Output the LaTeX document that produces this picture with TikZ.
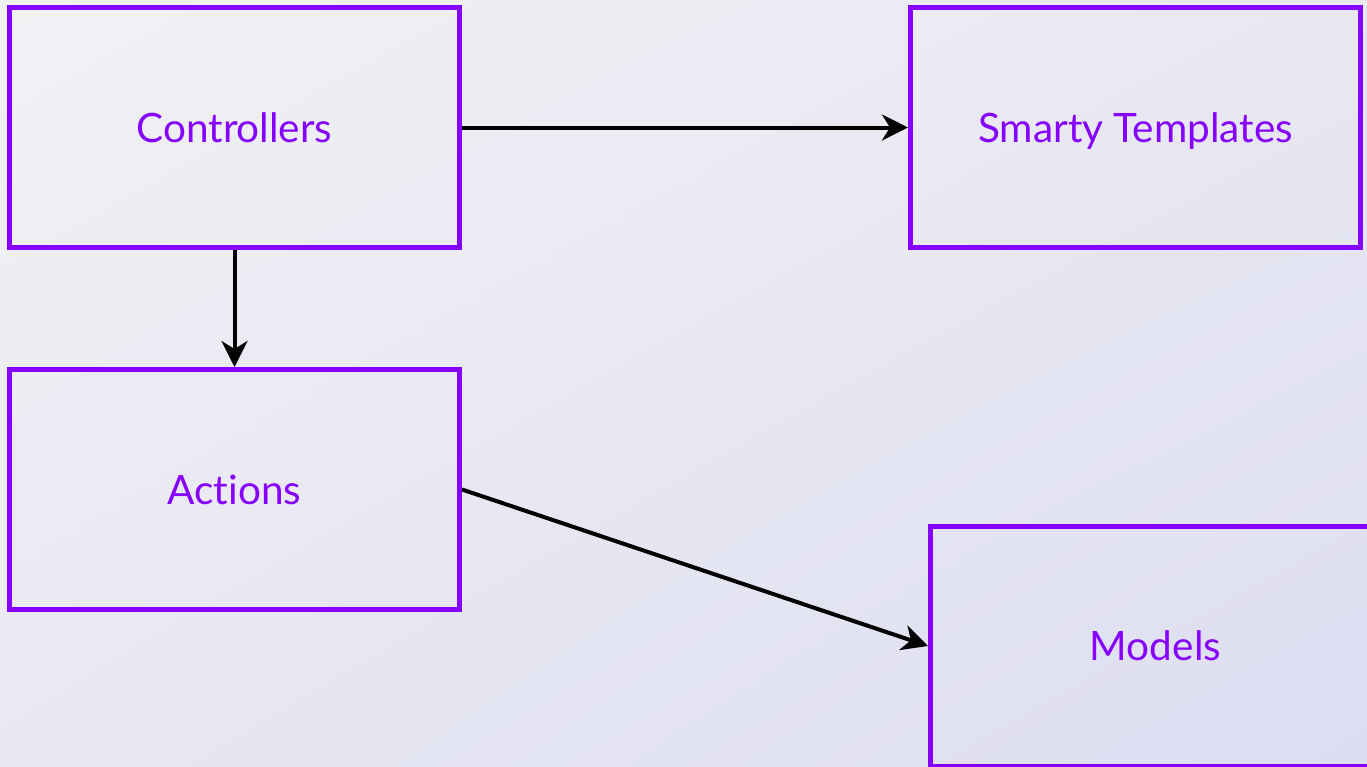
\documentclass[tikz,border=0pt]{standalone}
\usepackage{fontspec}
\setmainfont{Lato}[Ligatures={NoCommon, NoRequired, NoContextual}]
\usetikzlibrary{arrows.meta, positioning, shadings}

\definecolor{violet}{RGB}{134,0,255}
\definecolor{bgTL}{RGB}{240,242,244}
\definecolor{bgBR}{RGB}{220,221,242}
\definecolor{bgMid}{RGB}{232,232,242}

\tikzset{
	part/.style={draw=violet, line width=5pt, text=violet, minimum width=450pt, minimum height=240pt, text height=29pt, text depth=0pt, font=\fontsize{40.5}{48}\selectfont},
	flow/.style={line width=4pt, -{Stealth[length=26pt, width=26pt, inset=8pt]}}
}

\begin{document}
\begin{tikzpicture}[x=1pt, y=1pt]
	
	\clip (0,0) rectangle (1367,-766);
	\shade[upper left=bgTL, lower right=bgBR, upper right=bgMid, lower left=bgMid] (0,0) rectangle (1367,-766);
	
	% top row
	\node[part] (ctrl) at (234.5,-127.5) {Controllers};
	\node[part, right=446pt of ctrl] (smarty) {Smarty Templates};
	
	% lower row
	\node[part, below=117pt of ctrl] (actions) {Actions};
	\node[part, right=466pt of actions, yshift=-156.5pt] (models) {Models};
	
	\draw[flow] (ctrl) -- (smarty);
	\draw[flow] (ctrl) -- (actions);
	\draw[flow] (actions.east) -- (models.west);
	
\end{tikzpicture}
\end{document}
